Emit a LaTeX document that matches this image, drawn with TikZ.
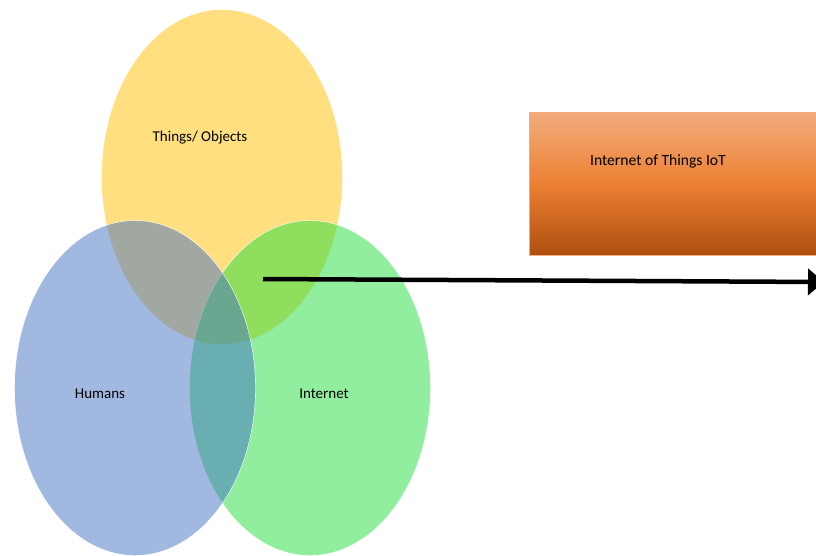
\documentclass[tikz,border=0pt]{standalone}
\usepackage{fontspec}
\setmainfont{Carlito}
\usetikzlibrary{arrows.meta, shapes.geometric}

\definecolor{thingsyellow}{HTML}{FFC000}
\definecolor{netgreen}{HTML}{21DD3D}
\definecolor{humanblue}{HTML}{4472C4}
\definecolor{iottop}{HTML}{F2AC7C}
\definecolor{iotmid}{HTML}{EC8034}
\definecolor{iotbottom}{HTML}{AE4E0E}

\begin{document}
\begin{tikzpicture}[x=1pt,y=-1pt]
\useasboundingbox (0,0) rectangle (816,555);
\begin{scope}[every node/.style={ellipse,draw=white,thin,fill opacity=0.5,
              minimum width=241pt,minimum height=335pt,inner sep=0pt}]
    \node[fill=thingsyellow] (T) at (222,177) {};
    \node[fill=netgreen] (N) at (310,388) {};
    \node[fill=humanblue] (H) at (135,388) {};
\end{scope}

\node[rectangle,draw=iottop,thin,top color=iottop,bottom color=iotbottom,
      middle color=iotmid,minimum width=287pt,minimum height=143pt,
      anchor=north west] (IoT) at (529,112) {};

\begin{scope}[every node/.style={font=\fontsize{15}{18}\selectfont,inner sep=0pt}]
    \node (TL) at (200,138) {Things/ Objects};
    \node (HL) at (100,394) {Humans};
    \node (NL) at (324,394) {Internet};
    \node[font=\fontsize{15.6}{18}\selectfont] (IoTL) at (658,161) {Internet of Things IoT};
\end{scope}

\coordinate (S) at (263,279);
\coordinate (E) at (824,282);
\begin{scope}[>={Triangle[length=16pt,width=26pt]},
              every edge/.style={draw=black,line width=4.5pt}]
    \path [->] (S) edge node {} (E);
\end{scope}
\end{tikzpicture}
\end{document}
